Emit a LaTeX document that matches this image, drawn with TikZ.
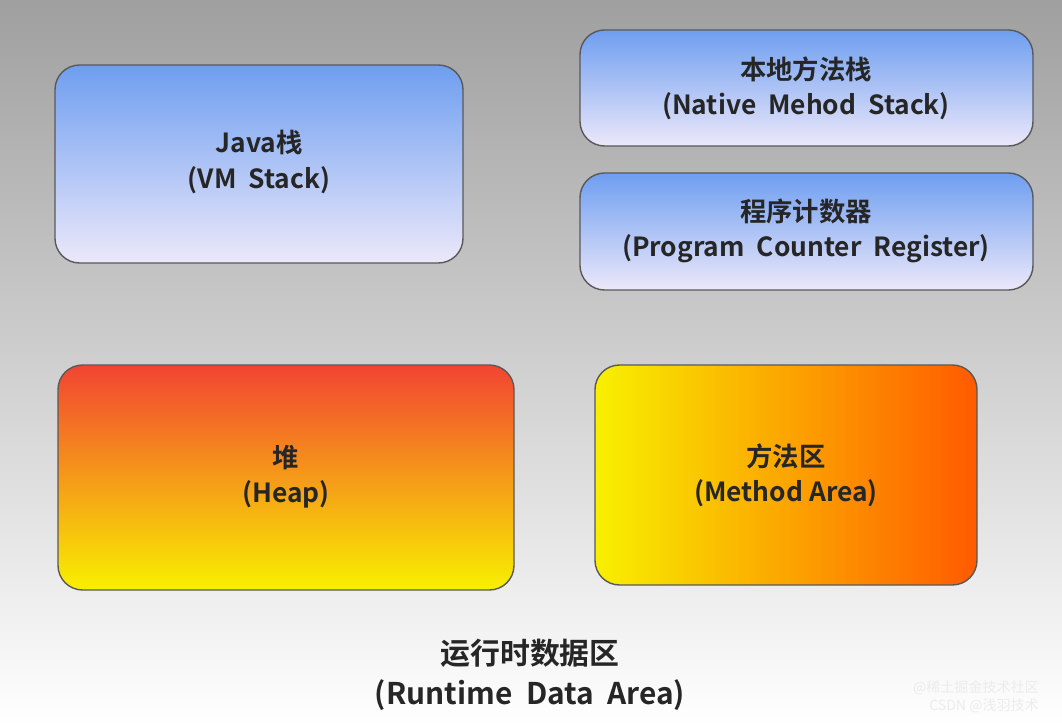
\documentclass[tikz,border=0pt]{standalone}
\usepackage{fontspec}
\setmainfont{Noto Sans CJK SC}[BoldFont={* Bold}]
\usetikzlibrary{shadings}
\definecolor{btop}{HTML}{6E9EF0}
\definecolor{bbot}{HTML}{ECE8FA}
\definecolor{htop}{HTML}{F24432}
\definecolor{hbot}{HTML}{F8F000}
\definecolor{mright}{HTML}{FF5A00}
\begin{document}
\begin{tikzpicture}[x=0.02cm,y=-0.02cm,
  lbl/.style={font=\bfseries\fontsize{15}{20}\selectfont,align=center,text=black!85},
  bluebox/.style={rounded corners=14pt,draw=gray!70!black,line width=0.8pt,top color=btop,bottom color=bbot},
  heapbox/.style={rounded corners=14pt,draw=gray!70!black,line width=0.8pt,top color=htop,bottom color=hbot},
  methbox/.style={rounded corners=14pt,draw=gray!70!black,line width=0.8pt,left color=hbot,right color=mright}]
\fill[top color=gray!75,bottom color=white] (0,0) rectangle (1062,726);
\useasboundingbox (0,0) rectangle (1062,726);
\path[bluebox] (55,65) rectangle (463,263);
\node[lbl] (jvm) at (259,162) {Java栈\\(VM\ \ Stack)};
\path[bluebox] (580,30) rectangle (1033,146);
\node[lbl] (nat) at (806,88) {本地方法栈\\(Native\ \ Mehod\ \ Stack)};
\path[bluebox] (580,173) rectangle (1033,290);
\node[lbl] (pc) at (806,231) {程序计数器\\(Program\ \ Counter\ \ Register)};
\path[heapbox] (58,365) rectangle (514,590);
\node[lbl] (heap) at (286,477) {堆\\(Heap)};
\path[methbox] (595,365) rectangle (977,585);
\node[lbl] (meth) at (786,475) {方法区\\(Method Area)};
\node[lbl,font=\bfseries\fontsize{17}{23}\selectfont] (rt) at (530,675) {运行时数据区\\(Runtime\ \ Data\ \ Area)};
\node[font=\fontsize{8}{10}\selectfont,text=white!85!gray,align=right,anchor=east] (wm) at (1045,697) {@稀土掘金技术社区\\CSDN @浅羽技术};
\end{tikzpicture}
\end{document}
